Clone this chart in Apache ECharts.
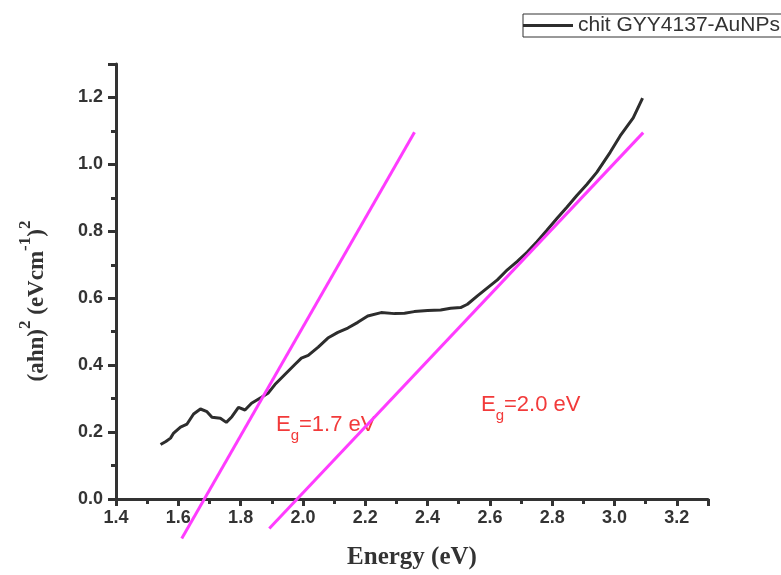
<!DOCTYPE html>
<html>
<head>
<meta charset="utf-8">
<script src="https://cdn.jsdelivr.net/npm/echarts@6/dist/echarts.min.js"></script>
<style>
  html, body { margin: 0; padding: 0; background: #fff; }
  #chart01 { width: 781px; height: 575px; }
</style>
</head>
<body>
<div id="chart01"></div>
<script>
// measured curve, (ahn)^2 against photon energy
var energy = [1.543, 1.560, 1.575, 1.585, 1.607, 1.628, 1.649, 1.671, 1.692, 1.708,
  1.735, 1.754, 1.772, 1.793, 1.814, 1.835, 1.867, 1.889, 1.910, 1.942,
  1.974, 1.995, 2.017, 2.049, 2.080, 2.112, 2.144, 2.176, 2.208, 2.251,
  2.294, 2.326, 2.357, 2.400, 2.442, 2.474, 2.506, 2.528, 2.560, 2.592,
  2.624, 2.656, 2.688, 2.720, 2.751, 2.783, 2.815, 2.847, 2.879, 2.911,
  2.943, 2.986, 3.018, 3.060, 3.090];
var ahn2 = [0.163, 0.172, 0.182, 0.197, 0.215, 0.224, 0.254, 0.269, 0.261, 0.244,
  0.241, 0.229, 0.246, 0.274, 0.266, 0.286, 0.304, 0.317, 0.342, 0.372,
  0.402, 0.421, 0.429, 0.454, 0.481, 0.498, 0.511, 0.528, 0.547, 0.557,
  0.554, 0.555, 0.560, 0.563, 0.565, 0.570, 0.572, 0.582, 0.607, 0.631,
  0.655, 0.685, 0.710, 0.738, 0.769, 0.803, 0.838, 0.872, 0.907, 0.940,
  0.976, 1.036, 1.085, 1.139, 1.198];

// tangent lines (end points)
var fit17X = [1.611, 2.358];
var fit17Y = [-0.118, 1.096];
var fit20X = [1.892, 3.092];
var fit20Y = [-0.088, 1.095];

var seriesName = 'chit GYY4137-AuNPs';

function pairs(xs, ys) {
  return xs.map(function (x, i) { return [x, ys[i]]; });
}

var chart01 = echarts.init(document.getElementById('chart01'), null, { renderer: 'canvas' });

var axisColor = '#333';
var sans = 'Liberation Sans, Arial, sans-serif';
var serif = 'Liberation Serif, Times New Roman, serif';
var labelFont = { color: axisColor, fontSize: 18, fontWeight: 'bold', fontFamily: sans };
var red = '#f23a3a';
var egMain = { fontSize: 22, lineHeight: 22, fill: red, color: red, fontFamily: sans, verticalAlign: 'top' };
var egSub = { fontSize: 15, lineHeight: 15, fill: red, color: red, fontFamily: sans, verticalAlign: 'top', padding: [14, 0, 0, 0] };
// superscripts: main text pushed down by top padding, exponents stay at the top
var yName = { fontSize: 23, lineHeight: 23, fill: axisColor, color: axisColor, fontWeight: 'bold', fontFamily: serif, verticalAlign: 'top', padding: [8, 0, 0, 0] };
var ySup = { fontSize: 17, lineHeight: 17, fill: axisColor, color: axisColor, fontWeight: 'bold', fontFamily: serif, verticalAlign: 'top' };

var option_c01 = {
  animation: false,
  backgroundColor: '#fff',
  grid: { left: 116, right: 73, top: 64, bottom: 72 },

  legend: {
    data: [seriesName],
    left: 523,
    top: 14,
    icon: 'rect',
    itemWidth: 50,
    itemHeight: 3,
    padding: [1, 8, 1, 0],
    borderColor: '#333',
    borderWidth: 1,
    textStyle: { color: '#333', fontSize: 21, fontFamily: sans }
  },

  xAxis: {
    type: 'value',
    min: 1.4,
    max: 3.3,
    interval: 0.2,
    name: 'Energy (eV)',
    nameLocation: 'middle',
    nameGap: 46,
    nameTextStyle: { color: axisColor, fontSize: 25, fontWeight: 'bold', fontFamily: serif },
    axisLine: { lineStyle: { color: axisColor, width: 3 } },
    axisTick: { length: 7, lineStyle: { color: axisColor, width: 3 } },
    minorTick: { show: true, splitNumber: 2, length: 5, lineStyle: { color: axisColor, width: 3 } },
    splitLine: { show: false },
    axisLabel: Object.assign({ margin: 10, showMaxLabel: false, formatter: function (v) { return v.toFixed(1); } }, labelFont)
  },

  yAxis: {
    type: 'value',
    min: 0,
    max: 1.3,
    interval: 0.2,
    axisLine: { show: true, onZero: false, lineStyle: { color: axisColor, width: 3 } },
    axisTick: { show: true, length: 8, lineStyle: { color: axisColor, width: 3 } },
    minorTick: { show: true, splitNumber: 2, length: 5, lineStyle: { color: axisColor, width: 3 } },
    splitLine: { show: false },
    axisLabel: Object.assign({ margin: 13, showMaxLabel: false, formatter: function (v) { return v.toFixed(1); } }, labelFont)
  },

  series: [
    {
      name: 'Eg 1.7 fit',
      type: 'line',
      data: pairs(fit17X, fit17Y),
      symbol: 'none',
      clip: false,
      z: 3,
      lineStyle: { color: '#ff3cff', width: 3 }
    },
    {
      name: 'Eg 2.0 fit',
      type: 'line',
      data: pairs(fit20X, fit20Y),
      symbol: 'none',
      clip: false,
      z: 3,
      lineStyle: { color: '#ff3cff', width: 3 }
    },
    {
      name: seriesName,
      type: 'line',
      data: pairs(energy, ahn2),
      symbol: 'none',
      z: 2,
      itemStyle: { color: '#2d2d2d' },
      lineStyle: { color: '#2d2d2d', width: 3 }
    }
  ],

  graphic: [
    {
      type: 'text',
      x: 29,
      y: 301,
      rotation: Math.PI / 2,
      style: {
        text: '{b|(ahn)}{s|2}{b| (eVcm}{s|-1}{b|)}{s|2}',
        align: 'center',
        verticalAlign: 'middle',
        rich: { b: yName, s: ySup }
      }
    },
    {
      type: 'text',
      x: 276,
      y: 414,
      style: {
        text: '{m|E}{g|g}{m|=1.7 eV}',
        fill: red,
        verticalAlign: 'top',
        rich: { m: egMain, g: egSub }
      }
    },
    {
      type: 'text',
      x: 481,
      y: 394,
      style: {
        text: '{m|E}{g|g}{m|=2.0 eV}',
        fill: red,
        verticalAlign: 'top',
        rich: { m: egMain, g: egSub }
      }
    }
  ]
};

chart01.setOption(option_c01);
</script>
</body>
</html>
